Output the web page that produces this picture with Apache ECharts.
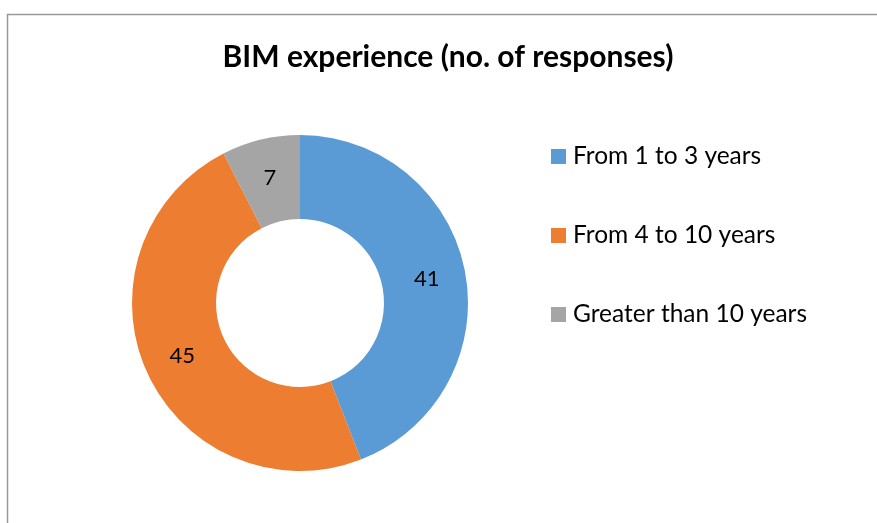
<!DOCTYPE html>
<html><head><meta charset="utf-8">
<script src="https://cdn.jsdelivr.net/npm/echarts@6/dist/echarts.min.js"></script>
<style>html,body{margin:0;padding:0;background:#fff}#c{width:877px;height:523px}</style>
</head><body><div id="c"></div>
<script>
const categories = ["From 1 to 3 years", "From 4 to 10 years", "Greater than 10 years"];
const values = [41, 45, 7];
const colors = ["#5B9BD5", "#ED7D31", "#A5A5A5"];
const titleText = "BIM experience (no. of responses)";
const FONT = "Lato";

const chart = echarts.init(document.getElementById('c'), null, {renderer: 'canvas'});
chart.setOption({
  backgroundColor: '#fff',
  animation: false,
  graphic: [{
    type: 'rect', z: -1,
    shape: {x: 7.5, y: 14.5, width: 1000, height: 1000},
    style: {fill: 'none', stroke: '#999', lineWidth: 1.5}
  }],
  title: {
    text: titleText, left: 448, top: 41, textAlign: 'center', padding: 0,
    textStyle: {fontFamily: FONT, fontWeight: 'bold', fontSize: 30, lineHeight: 32, color: '#000'}
  },
  legend: {
    orient: 'vertical', left: 551, top: 144, padding: 0,
    itemWidth: 15, itemHeight: 15, itemGap: 54, icon: 'rect',
    textStyle: {fontFamily: FONT, fontSize: 24.5, lineHeight: 25, color: '#000', padding: [0,0,0,2]},
    data: categories
  },
  series: [{
    type: 'pie', center: [300, 303], radius: [84, 168],
    startAngle: 90, clockwise: true,
    label: {show: true, position: 'inside', formatter: '{c}', fontFamily: FONT, fontSize: 22, color: '#000'},
    labelLine: {show: false},
    emphasis: {disabled: true},
    data: categories.map((n, i) => ({name: n, value: values[i], itemStyle: {color: colors[i]}}))
  }]
});
</script></body></html>
